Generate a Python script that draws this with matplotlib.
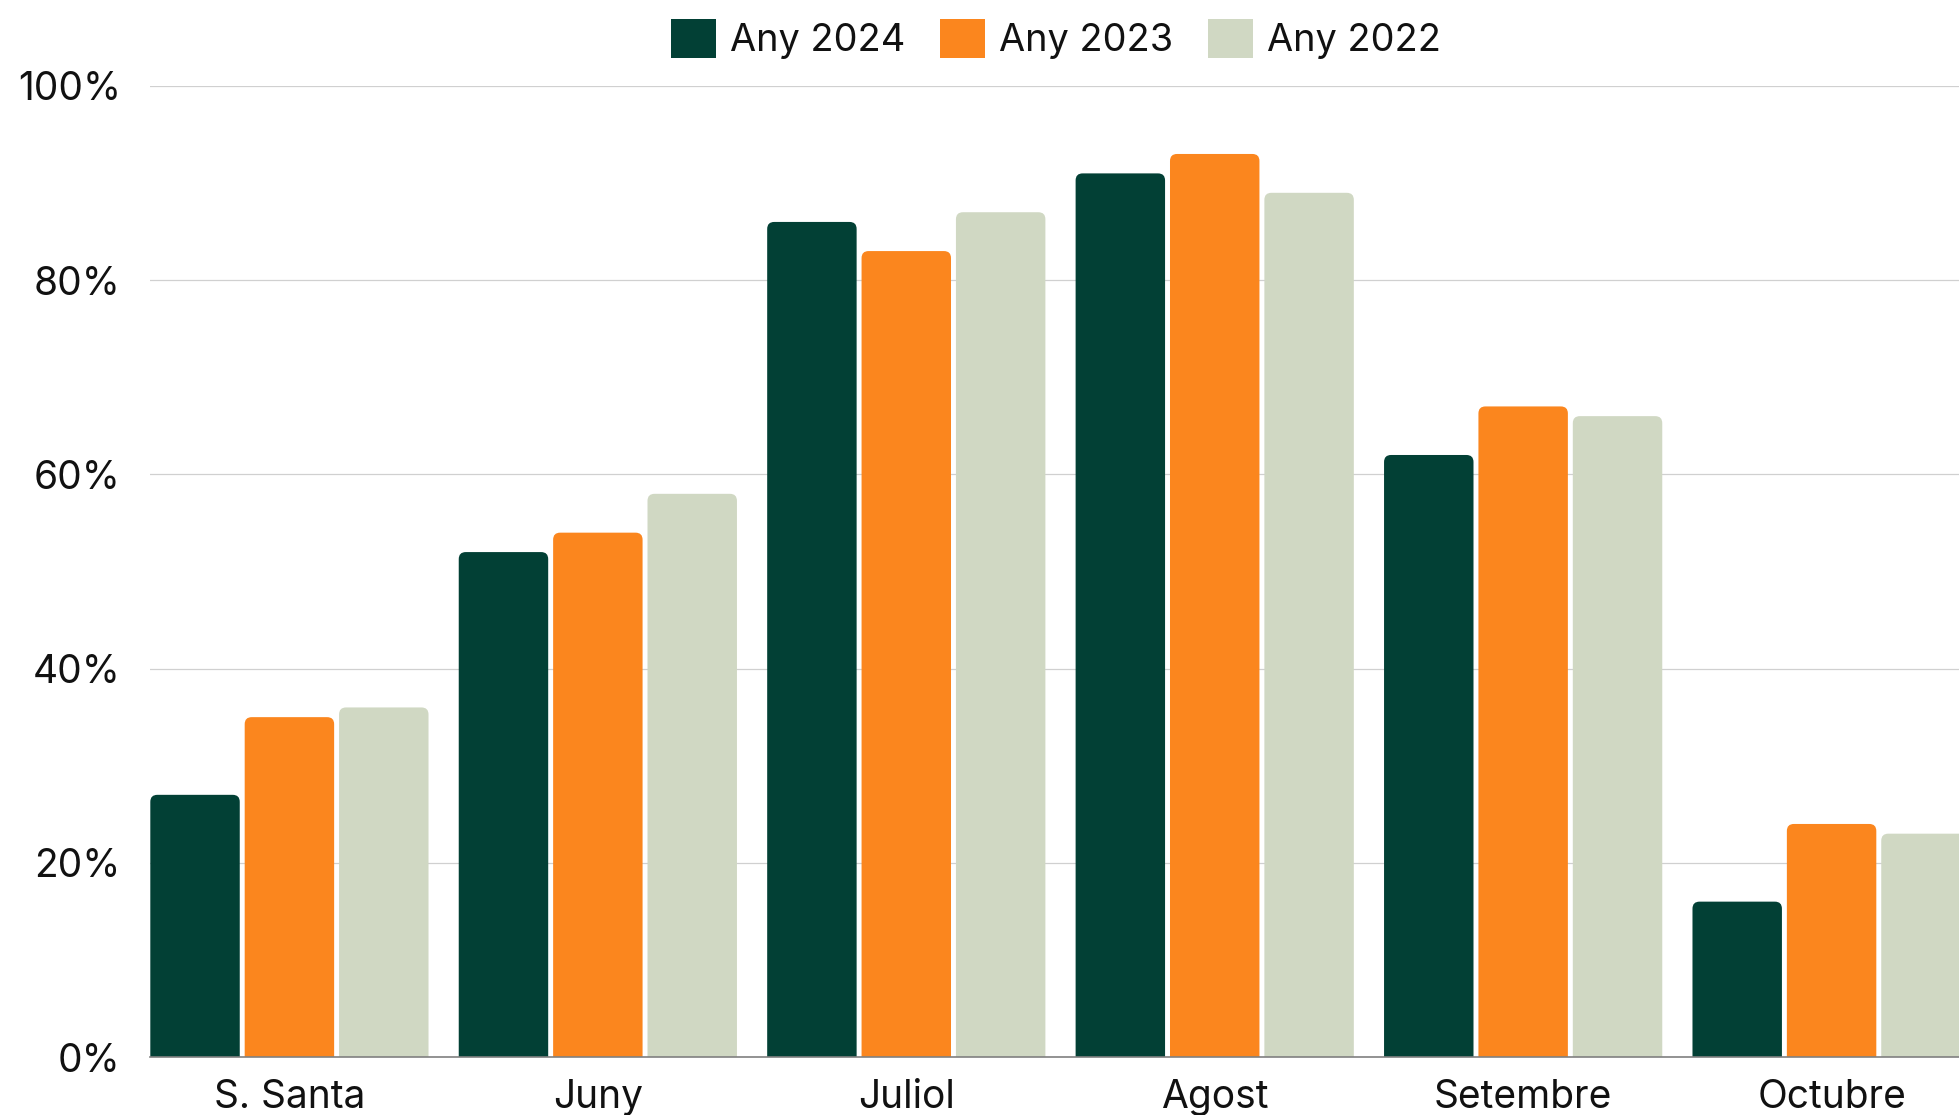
import matplotlib
matplotlib.use("Agg")
import matplotlib.pyplot as plt
from matplotlib.patches import FancyBboxPatch, Patch

categories = ["S. Santa", "Juny", "Juliol", "Agost", "Setembre", "Octubre"]
series_names = ["Any 2024", "Any 2023", "Any 2022"]
any_2024 = [27, 52, 86, 91, 62, 16]
any_2023 = [35, 54, 83, 93, 67, 24]
any_2022 = [36, 58, 87, 89, 66, 23]
yticks = [0, 20, 40, 60, 80, 100]
ytick_labels = ["0%", "20%", "40%", "60%", "80%", "100%"]

colors = ["#024035", "#FB861E", "#D0D8C3"]

plt.rcParams['font.family'] = ['Inter', 'DejaVu Sans']

W, H = 1959, 1115
fig = plt.figure(figsize=(W / 100, H / 100), dpi=100)
left_px, right_px = 150, 1971
bottom_px, top_px = 1057, 86
ax = fig.add_axes([left_px / W, (H - bottom_px) / H, (right_px - left_px) / W, (bottom_px - top_px) / H])

pitch = 0.306
bw = 0.29
x = list(range(len(categories)))
series = [any_2024, any_2023, any_2022]

ax.set_xlim(-0.452, 5.452)
ax.set_ylim(0, 100)

# unit conversions for rounded corners
px_per_x = (right_px - left_px) / (5.452 + 0.452)
px_per_y = (bottom_px - top_px) / 100.0
radius_px = 7
rx = radius_px / px_per_x
aspect = px_per_x / px_per_y

handles = []
for i, (vals, col, name) in enumerate(zip(series, colors, series_names)):
    offs = [xi + (i - 1) * pitch for xi in x]
    bars = ax.bar(offs, vals, width=bw, color=col, label=name, zorder=3)
    for r in bars.patches:
        r.set_visible(False)
        y0 = r.get_y() - 2
        p = FancyBboxPatch((r.get_x(), y0), r.get_width(), r.get_height() + 2,
                           boxstyle=f"round,pad=0,rounding_size={rx}",
                           mutation_aspect=aspect,
                           facecolor=col, edgecolor='none', zorder=3,
                           clip_on=True)
        ax.add_patch(p)
        p.set_clip_path(ax.patch)
    handles.append(Patch(facecolor=col, edgecolor='none', label=name))

ax.set_yticks(yticks)
ax.set_yticklabels(ytick_labels)
ax.set_xticks(x)
ax.set_xticklabels(categories)
ax.tick_params(axis='both', length=0, labelsize=28, colors='#111111')
ax.tick_params(axis='y', pad=21)
ax.tick_params(axis='x', pad=16)

ax.grid(axis='y', color='#d0d0d0', linewidth=0.9, zorder=0)
ax.set_axisbelow(True)
for s in ['top', 'right', 'left']:
    ax.spines[s].set_visible(False)
ax.spines['bottom'].set_color('#808080')
ax.spines['bottom'].set_linewidth(1.2)
ax.spines['bottom'].set_zorder(4)

leg = fig.legend(handles=handles, loc='center', bbox_to_anchor=(1056 / W, 1 - 39 / H), ncol=3,
                 frameon=False, fontsize=27.3, handlelength=1.19, handleheight=1.19,
                 handletextpad=0.38, columnspacing=0.9, borderaxespad=0)
for t in leg.get_texts():
    t.set_color('#111111')

fig.savefig("out.png", dpi=100)
